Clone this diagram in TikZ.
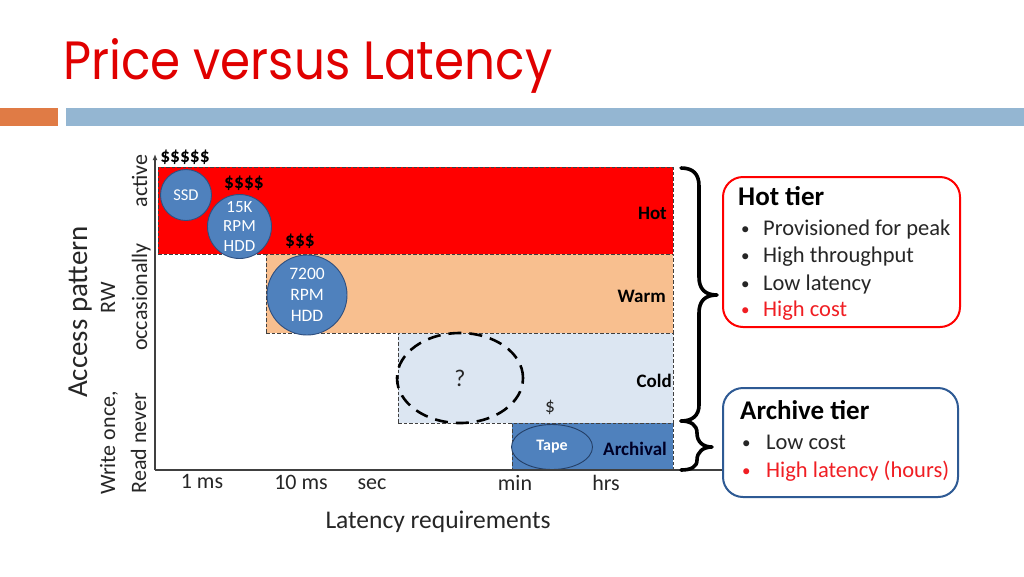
\documentclass[tikz,border=0pt]{standalone}
\usepackage{fontspec}
\setmainfont{Carlito}
\newfontfamily\titlefont{Poppins}
\usetikzlibrary{shapes.geometric,arrows.meta}
\definecolor{titlered}{HTML}{E00000}
\definecolor{obar}{HTML}{E07B45}
\definecolor{bbar}{HTML}{94B6D2}
\definecolor{hotfill}{HTML}{FF0000}
\definecolor{warmfill}{HTML}{F8BF8F}
\definecolor{coldfill}{HTML}{DCE6F2}
\definecolor{archfill}{HTML}{4F81BD}
\definecolor{diskedge}{HTML}{2F4F7F}
\definecolor{tapeedge}{HTML}{243F66}
\definecolor{dashgray}{HTML}{404040}
\definecolor{axisgray}{HTML}{404040}
\definecolor{txt}{HTML}{262626}
\definecolor{itemred}{HTML}{F01E23}
\definecolor{archedge}{HTML}{2E5A94}
\begin{document}
\begin{tikzpicture}[x=1pt,y=-1pt,
  tierrect/.style={draw=dashgray, line width=0.9pt, dash pattern=on 3.5pt off 2pt, inner sep=0pt},
  disk/.style={circle, fill=archfill, draw=diskedge, line width=0.9pt, text=white, align=center, inner sep=0pt},
  tierlabel/.style={anchor=east, inner sep=0pt, font=\fontsize{19}{19}\selectfont\bfseries},
  money/.style={inner sep=0pt, font=\fontsize{19.5}{19.5}\selectfont\bfseries},
  axlabel/.style={rotate=90, anchor=base, inner sep=0pt, text=txt, font=\fontsize{22}{22}\selectfont},
  xlabel/.style={anchor=base, inner sep=0pt, text=txt, font=\fontsize{22}{22}\selectfont},
  infobox/.style={rounded corners=20pt, line width=2pt, inner sep=0pt, fill=white},
  boxtitle/.style={anchor=base west, inner sep=0pt, font=\fontsize{27}{27}\selectfont\bfseries},
  boxitem/.style={anchor=base west, inner sep=0pt, text=txt, font=\fontsize{22.5}{22.5}\selectfont},
  bullet/.style={anchor=base west, inner sep=0pt, text=txt, font=\fontsize{17}{17}\selectfont},
  bracestyle/.style={line width=3.6pt, line join=round, line cap=round}
]
\useasboundingbox (0,0) rectangle (1024,576);
\fill[white] (0,0) rectangle (1024,576);

% title and bars
\node[anchor=base west, inner sep=0pt, text=titlered] (title) at (63,79)
  {\resizebox{489pt}{41pt}{\titlefont Price versus Latency}};
\node[fill=obar, inner sep=0pt, minimum width=58pt, minimum height=18pt, anchor=north west] (orangebar) at (0,108) {};
\node[fill=bbar, inner sep=0pt, minimum width=958pt, minimum height=18pt, anchor=north west] (bluebar) at (66,108) {};

% tier rectangles
\node[tierrect, fill=hotfill, minimum width=515pt, minimum height=87pt] (hot) at (415.5,210.5) {};
\node[tierrect, fill=warmfill, minimum width=407pt, minimum height=79pt] (warm) at (469.5,293.5) {};
\node[tierrect, fill=coldfill, minimum width=275pt, minimum height=90pt] (cold) at (535.5,378) {};
\node[tierrect, fill=archfill, minimum width=161pt, minimum height=46pt] (arch) at (592.5,446) {};

\node[tierlabel] (hotlab) at (667,213) {Hot};
\node[tierlabel] (warmlab) at (666,296) {Warm};
\node[tierlabel] (coldlab) at (672,381) {Cold};
\node[tierlabel, text=black!85!blue] (archlab) at (667,449) {Archival};

% media
\node[disk, minimum size=51pt, font=\fontsize{16.5}{19}\selectfont] (ssd) at (186,195) {SSD};
\node[disk, minimum size=64pt, font=\fontsize{17}{19.5}\selectfont] (hdd15k) at (239.5,226.5) {15K\\RPM\\HDD};
\node[disk, minimum size=80pt, font=\fontsize{17.5}{21}\selectfont] (hdd7200) at (307,295) {7200\\RPM\\HDD};
\node[ellipse, draw=black, line width=2.6pt, dash pattern=on 13pt off 8pt, minimum width=126pt, minimum height=90pt, inner sep=0pt, text=txt, font=\fontsize{24}{24}\selectfont] (unknown) at (460,378) {?};
\node[ellipse, fill=archfill, draw=tapeedge, line width=0.9pt, minimum width=81pt, minimum height=45pt, inner sep=0pt, text=white, font=\fontsize{16}{16}\selectfont\bfseries] (tape) at (552,447) {Tape};

% prices
\node[money] (p5) at (185,157) {\$\$\$\$\$};
\node[money] (p4) at (244,183) {\$\$\$\$};
\node[money] (p3) at (300,241) {\$\$\$};
\node[inner sep=0pt, text=txt, font=\fontsize{19.5}{19.5}\selectfont] (p1) at (550,407) {\$};

% axes
\coordinate (origin) at (155,470);
\coordinate (ytop) at (155,154);
\node[infobox, draw=archedge, minimum width=235pt, minimum height=109pt] (archbox) at (840.5,442.5) {};
\draw[axisgray, line width=1.8pt] (origin) -- (archbox.west |- origin);
\draw[axisgray, line width=1.5pt, -{Latex[length=6pt,width=5pt]}] (origin) -- (ytop);

% axis labels
\node[rotate=90, anchor=base, inner sep=0pt, text=txt, font=\fontsize{29}{29}\selectfont] (acc) at (87,312) {Access pattern};
\node[axlabel] (active) at (147,181) {active};
\node[axlabel] (rw) at (115,298) {RW};
\node[axlabel] (occ) at (147,297) {occasionally};
\node[axlabel] (wonce) at (115,443) {Write once,};
\node[axlabel] (rnever) at (146,443) {Read never};

\node[xlabel] (x1) at (202,488) {1 ms};
\node[xlabel] (x10) at (301,489) {10 ms};
\node[xlabel] (xsec) at (372,489) {sec};
\node[xlabel] (xmin) at (515,490) {min};
\node[xlabel] (xhrs) at (606,490) {hrs};
\node[anchor=base, inner sep=0pt, text=txt, font=\fontsize{25.5}{25.5}\selectfont] (xtitle) at (438,528) {Latency requirements};

% braces
\draw[bracestyle] (681,168) .. controls (693,168) and (699,174) .. (699,186) -- (699,277)
  .. controls (699,289) and (705,295) .. (717,295)
  .. controls (705,295) and (699,301) .. (699,313) -- (699,405)
  .. controls (699,415) and (693,421) .. (681,421);
\draw[bracestyle] (681,421) .. controls (691,421) and (697,425) .. (697,433)
  .. controls (697,442) and (703,447) .. (712,447)
  .. controls (703,447) and (697,452) .. (697,460)
  .. controls (697,467) and (691,470) .. (681,470);

% hot tier box
\node[infobox, draw=red, minimum width=237pt, minimum height=150pt] (hotbox) at (841.5,252) {};
\node[boxtitle] (hottitle) at (738,205) {Hot tier};
\node[bullet] (hb1) at (741,234) {•};
\node[boxitem] (hi1) at (763,235) {Provisioned for peak};
\node[bullet] (hb2) at (741,261) {•};
\node[boxitem] (hi2) at (763,262) {High throughput};
\node[bullet] (hb3) at (741,289) {•};
\node[boxitem] (hi3) at (763,290) {Low latency};
\node[bullet, text=itemred] (hb4) at (741,315) {•};
\node[boxitem, text=itemred] (hi4) at (763,316) {High cost};

% archive tier box
\node[boxtitle] (archtitle) at (740,419) {Archive tier};
\node[bullet] (ab1) at (742,448) {•};
\node[boxitem] (ai1) at (766,449) {Low cost};
\node[bullet, text=itemred] (ab2) at (742,476) {•};
\node[boxitem, text=itemred] (ai2) at (766,477) {High latency (hours)};
\end{tikzpicture}
\end{document}
